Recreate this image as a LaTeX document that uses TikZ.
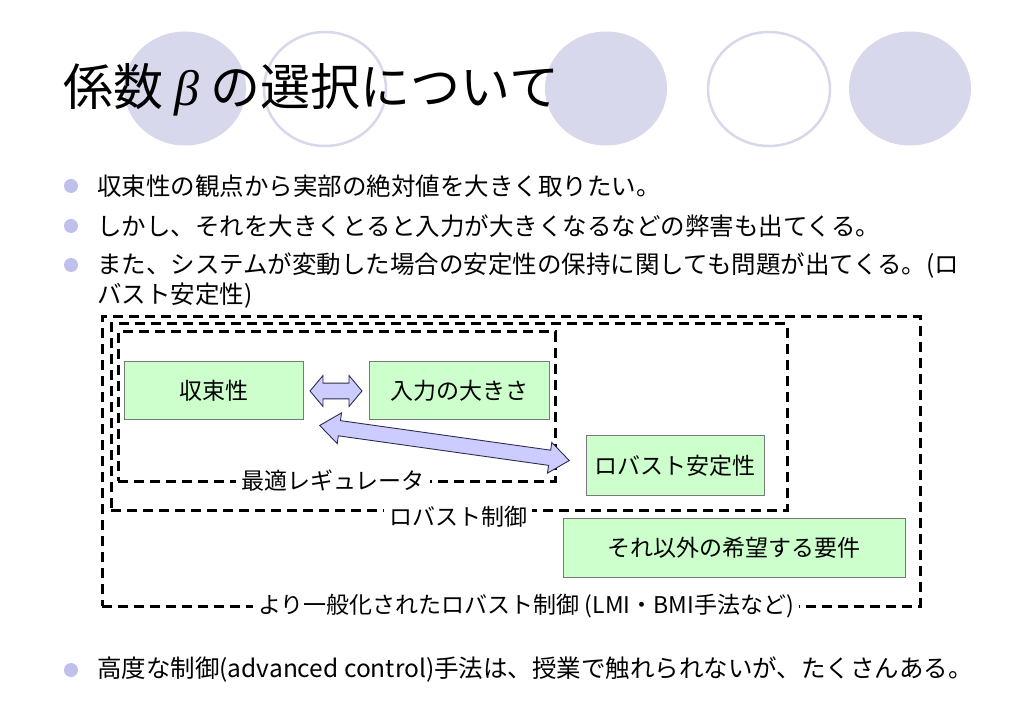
\documentclass[tikz,border=0pt]{standalone}
\usepackage{fontspec}
\setmainfont{Noto Sans CJK JP}
\newfontfamily\betafont{Liberation Serif}
\usepackage{tikz}
\usetikzlibrary{
  arrows.meta, positioning, shapes.arrows, calc
}
\definecolor{decolav}{RGB}{216, 216, 236}
\definecolor{dotlav}{RGB}{192, 192, 236}
\definecolor{boxgreen}{RGB}{204, 255, 204}
\definecolor{boxedge}{RGB}{120, 120, 120}
\definecolor{arrowlav}{RGB}{204, 204, 255}
\definecolor{arrowedge}{RGB}{45, 45, 80}

\begin{document}
\begin{tikzpicture}[
    x=1pt, y=-1pt,
    box/.style={draw=boxedge, fill=boxgreen, line width=1pt,
                minimum height=58pt, inner sep=0pt,
                font=\fontsize{23}{26}\selectfont},
    frame/.style={draw, line width=3pt, dash pattern=on 10pt off 6pt,
                  inner sep=0pt},
    framelabel/.style={fill=white, inner xsep=5pt, inner ysep=2pt,
                       font=\fontsize{23}{26}\selectfont},
    dblarrow/.style={double arrow, draw=arrowedge, fill=arrowlav,
                     line width=0.9pt, inner xsep=0pt},
    bullet/.style={circle, fill=dotlav, minimum size=14pt, inner sep=0pt},
    item/.style={anchor=west, inner sep=0pt,
                 font=\fontsize{24.5}{30}\selectfont},
  ]
  \path[use as bounding box, fill=white] (0,0) rectangle (1023,708);

  \fill[decolav] (185,88.5) ellipse [x radius=61pt, y radius=57pt];
  \draw[decolav, line width=2.5pt] (325,89) ellipse [x radius=61pt, y radius=57pt];
  \fill[decolav] (606,88.5) ellipse [x radius=61pt, y radius=57pt];
  \draw[decolav, line width=2.5pt] (769,89) ellipse [x radius=61pt, y radius=57pt];
  \fill[decolav] (910,88.5) ellipse [x radius=61pt, y radius=57pt];

  \node[anchor=west, inner sep=0pt, font=\fontsize{50}{58}\selectfont] (title) at (63,90)
    {係数 {\betafont\itshape β} の選択について};

  \node[bullet] (dot1) at (71,186) {};
  \node[item] (item1) at (97,186) {収束性の観点から実部の絶対値を大きく取りたい。};
  \node[bullet] (dot2) at (71,226) {};
  \node[item] (item2) at (97,226) {しかし、それを大きくとると入力が大きくなるなどの弊害も出てくる。};
  \node[bullet] (dot3) at (71,265) {};
  \node[item, anchor=north west, align=left] (item3) at (97,253)
    {また、システムが変動した場合の安定性の保持に関しても問題が出てくる。(ロ\\バスト安定性)};

  \node[frame, minimum width=818pt, minimum height=289pt] (genframe) at (511,461.5) {};
  \node[frame, minimum width=676pt, minimum height=186pt] (robframe) at (449,417) {};
  \node[frame, minimum width=437pt, minimum height=149pt] (optframe) at (336.5,406.5) {};

  \node[framelabel] (optlabel) at (333,481) {最適レギュレータ};
  \node[framelabel] (roblabel) at (458,517) {ロバスト制御};
  \node[framelabel] (genlabel) at (526,606) {より一般化されたロバスト制御 (LMI・BMI手法など)};

  \node[box, minimum width=179pt] (conv) at (213.5,391) {収束性};
  \node[box, minimum width=180pt] (inp) at (459,391) {入力の大きさ};
  \node[box, minimum width=178pt, minimum height=59pt] (robst) at (675,465.5) {ロバスト安定性};
  \node[box, minimum width=342pt, minimum height=59pt] (other) at (734,547.5) {それ以外の希望する要件};

  \node[dblarrow, inner ysep=7pt, minimum width=31pt, minimum height=52pt,
        double arrow tip angle=100] (convinp) at ($(conv.east)!0.5!(inp.west)$) {};
  \node[dblarrow, inner ysep=6.5pt, minimum width=31pt, minimum height=252pt,
        double arrow tip angle=76, rotate=-8] (convrob)
        at ($(conv.south east)!0.5!(robst.west)$) {};

  \node[bullet] (dot4) at (71,670) {};
  \node[item] (item4) at (97,670) {高度な制御(advanced control)手法は、授業で触れられないが、たくさんある。};
\end{tikzpicture}
\end{document}
